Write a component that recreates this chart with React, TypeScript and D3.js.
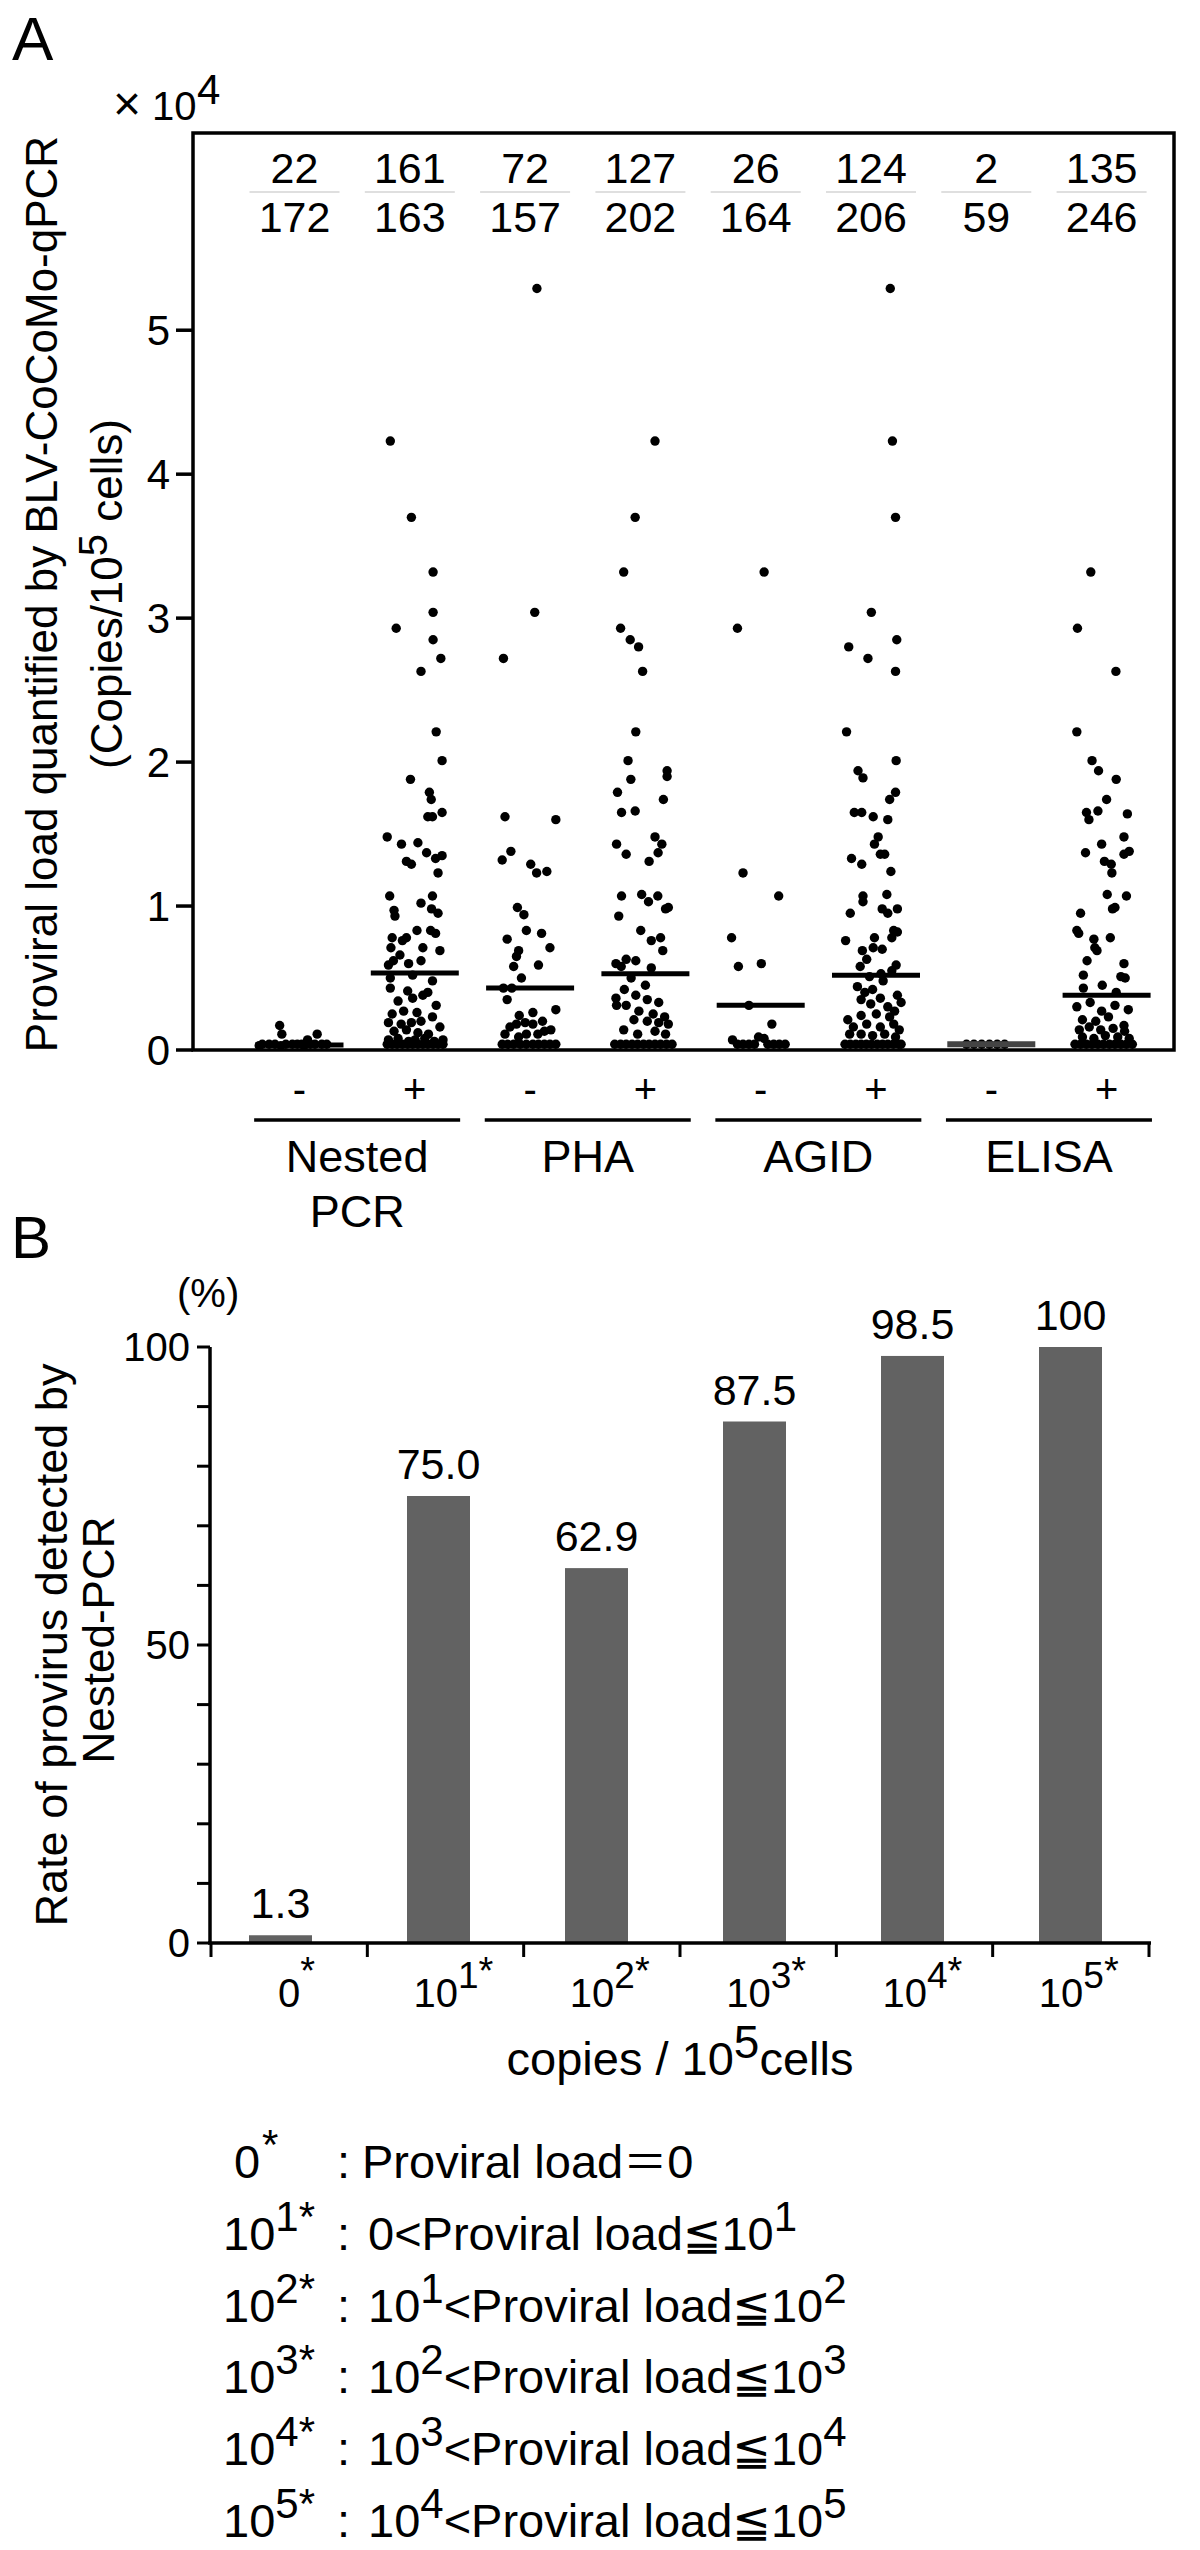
import React from "react";
import * as d3 from "d3";

// ---------- Panel A data ----------
const groupNames: string[][] = [["Nested", "PCR"], ["PHA"], ["AGID"], ["ELISA"]];
const signLabels = ["-", "+", "-", "+", "-", "+", "-", "+"];
const positiveCounts = [22, 161, 72, 127, 26, 124, 2, 135];
const totalCounts = [172, 163, 157, 202, 164, 206, 59, 246];
const medianLoads = [0.035, 0.535, 0.43, 0.53, 0.31, 0.52, 0.04, 0.38];
const loadTicks = [0, 1, 2, 3, 4, 5];

// each dot: [horizontal jitter (-1..1), proviral load (x10^4 copies / 10^5 cells)]
const nestedNeg: [number, number][] = [
  [-0.64, 0.17], [-0.57, 0.11], [0.57, 0.11], [0.26, 0.07], [-1.2, 0.04], [-0.98, 0.04], [-0.79, 0.04],
  [-0.44, 0.04], [-0.23, 0.04], [-0.07, 0.04], [0.07, 0.04], [0.35, 0.04], [0.5, 0.04], [0.72, 0.04],
  [0.88, 0.04], [-0.6, 0.03], [0.15, 0.03], [-1.3, 0.03],
];
const nestedPos: [number, number][] = [
  [-0.79, 4.23], [-0.11, 3.7], [0.59, 3.32], [0.59, 3.04], [-0.6, 2.93], [0.59, 2.85], [0.84, 2.72], [0.2, 2.63],
  [0.69, 2.21], [0.88, 2.01], [-0.14, 1.88], [0.47, 1.79], [0.53, 1.74], [0.57, 1.62], [0.88, 1.65], [0.42, 1.62],
  [-0.89, 1.48], [-0.43, 1.43], [0.1, 1.44], [0.38, 1.37], [0.88, 1.35], [0.67, 1.33], [-0.27, 1.31], [-0.11, 1.29],
  [0.75, 1.23], [-0.81, 1.07], [0.57, 1.07], [0.2, 1.02], [-0.67, 0.97], [-0.64, 0.93], [0.54, 0.98], [0.75, 0.95],
  [0.07, 0.83], [0.51, 0.83], [0.67, 0.81], [-0.73, 0.78], [-0.4, 0.76], [-0.27, 0.78], [-0.77, 0.71], [0.26, 0.71],
  [0.81, 0.69], [-0.48, 0.66], [-0.69, 0.62], [-0.85, 0.59], [-0.2, 0.6], [0.2, 0.62], [-0.79, 0.5], [-0.07, 0.52],
  [0.57, 0.48], [-0.79, 0.43], [-0.23, 0.41], [0.42, 0.4], [-0.54, 0.34], [-0.07, 0.36], [0.26, 0.38], [0.69, 0.31],
  [-0.73, 0.25], [-0.36, 0.27], [0.07, 0.26], [0.57, 0.23], [-0.85, 0.19], [-0.44, 0.18], [-0.11, 0.19], [0.2, 0.2],
  [0.81, 0.16], [-0.67, 0.13], [-0.27, 0.14], [0.1, 0.12], [0.44, 0.11], [-0.85, 0.07], [-0.54, 0.08], [-0.2, 0.06],
  [0.01, 0.07], [0.32, 0.08], [0.63, 0.06], [0.91, 0.07], [-0.89, 0.04], [-0.73, 0.04], [-0.57, 0.04], [-0.4, 0.04],
  [-0.23, 0.04], [-0.07, 0.04], [0.1, 0.04], [0.26, 0.04], [0.42, 0.04], [0.59, 0.04], [0.75, 0.04], [0.91, 0.04],
];
const phaNeg: [number, number][] = [
  [0.22, 5.29], [0.15, 3.04], [-0.86, 2.72], [-0.81, 1.62], [0.83, 1.6], [-0.62, 1.38], [-0.9, 1.32], [0.02, 1.29],
  [0.21, 1.23], [0.54, 1.24], [-0.41, 0.99], [-0.2, 0.94], [-0.12, 0.83], [0.37, 0.81], [-0.74, 0.77], [0.64, 0.71],
  [-0.37, 0.69], [-0.44, 0.65], [0.27, 0.59], [-0.53, 0.58], [-0.28, 0.5], [-0.86, 0.43], [-0.59, 0.43], [-0.74, 0.35],
  [0.83, 0.28], [-0.35, 0.24], [0.09, 0.26], [-0.65, 0.16], [-0.44, 0.18], [-0.16, 0.19], [0.09, 0.18], [0.4, 0.2],
  [0.67, 0.14], [-0.81, 0.11], [-0.37, 0.09], [-0.12, 0.11], [0.25, 0.11], [0.46, 0.13], [-0.9, 0.04], [-0.72, 0.04],
  [-0.53, 0.04], [-0.32, 0.04], [-0.12, 0.04], [0.09, 0.04], [0.27, 0.04], [0.46, 0.04], [0.64, 0.04], [0.83, 0.04],
];
const phaPos: [number, number][] = [
  [0.31, 4.23], [-0.33, 3.7], [-0.7, 3.32], [-0.8, 2.93], [-0.49, 2.85], [-0.22, 2.8], [-0.09, 2.63], [-0.31, 2.21],
  [-0.56, 2.01], [0.7, 1.94], [0.7, 1.9], [-0.47, 1.88], [-0.9, 1.79], [0.58, 1.74], [-0.77, 1.65], [-0.33, 1.66],
  [-0.93, 1.43], [0.31, 1.48], [0.53, 1.43], [-0.62, 1.36], [0.41, 1.37], [0.12, 1.31], [-0.77, 1.07], [-0.12, 1.08],
  [0.4, 1.07], [0.1, 1.03], [0.65, 0.98], [0.74, 0.99], [-0.86, 0.93], [-0.15, 0.83], [0.19, 0.76], [0.49, 0.78],
  [0.56, 0.69], [-0.62, 0.63], [-0.95, 0.6], [-0.31, 0.62], [0.19, 0.57], [-0.78, 0.58], [-0.46, 0.5], [-0.68, 0.42],
  [0, 0.45], [-0.95, 0.36], [-0.31, 0.38], [0.06, 0.35], [0.43, 0.33], [-0.62, 0.31], [-0.21, 0.27], [-0.93, 0.31],
  [0.25, 0.25], [0.62, 0.23], [-0.37, 0.21], [0.06, 0.2], [0.43, 0.19], [0.74, 0.18], [-0.7, 0.14], [-0.25, 0.11],
  [0.31, 0.13], [0.65, 0.11], [-0.99, 0.04], [-0.8, 0.04], [-0.62, 0.04], [-0.43, 0.04], [-0.25, 0.04], [-0.06, 0.04],
  [0.12, 0.04], [0.31, 0.04], [0.49, 0.04], [0.68, 0.04], [0.86, 0.04],
];
const agidNeg: [number, number][] = [
  [0.11, 3.32], [-0.75, 2.93], [-0.57, 1.23], [0.58, 1.07], [-0.94, 0.78], [-0.72, 0.58], [0.02, 0.6], [-0.38, 0.31],
  [0.36, 0.18], [-0.91, 0.07], [-0.07, 0.09], [0.11, 0.08], [-0.75, 0.04], [-0.57, 0.04], [-0.38, 0.04], [-0.2, 0.04],
  [0.23, 0.04], [0.42, 0.04], [0.6, 0.04], [0.79, 0.04],
];
const agidPos: [number, number][] = [
  [0.46, 5.29], [0.53, 4.23], [0.63, 3.7], [-0.15, 3.04], [-0.88, 2.8], [0.67, 2.85], [-0.26, 2.72], [0.63, 2.63],
  [-0.95, 2.21], [0.65, 2.01], [-0.58, 1.94], [-0.42, 1.89], [0.63, 1.79], [0.44, 1.74], [-0.7, 1.65], [-0.46, 1.65],
  [-0.09, 1.62], [0.38, 1.6], [0.07, 1.48], [-0.05, 1.43], [-0.79, 1.33], [-0.46, 1.29], [0.14, 1.36], [0.28, 1.36],
  [0.48, 1.24], [-0.42, 1.07], [-0.42, 1.03], [0.35, 1.08], [0.2, 0.98], [0.38, 0.95], [0.69, 0.98], [-0.83, 0.95],
  [0.57, 0.83], [0.69, 0.82], [0.51, 0.78], [-0.98, 0.76], [-0.05, 0.78], [-0.09, 0.71], [0.2, 0.7], [-0.44, 0.69],
  [-0.3, 0.63], [-0.51, 0.58], [0.65, 0.59], [0.51, 0.55], [0.16, 0.53], [-0.21, 0.51], [0.23, 0.48], [-0.6, 0.44],
  [-0.36, 0.4], [-0.11, 0.42], [0.69, 0.38], [0.81, 0.33], [0.14, 0.36], [-0.48, 0.35], [-0.17, 0.32], [0.38, 0.3],
  [-0.91, 0.21], [-0.48, 0.24], [0.01, 0.25], [0.44, 0.23], [0.6, 0.27], [-0.73, 0.16], [-0.3, 0.18], [0.14, 0.16],
  [0.57, 0.18], [0.75, 0.14], [-0.85, 0.11], [-0.48, 0.11], [-0.11, 0.1], [0.28, 0.11], [0.63, 0.09], [-1.0, 0.04],
  [-0.83, 0.04], [-0.65, 0.04], [-0.48, 0.04], [-0.31, 0.04], [-0.14, 0.04], [0.04, 0.04], [0.21, 0.04], [0.38, 0.04],
  [0.56, 0.04], [0.73, 0.04], [0.81, 0.04],
];
const elisaNeg: [number, number][] = [
  [-0.8, 0.04], [-0.56, 0.04], [-0.31, 0.04], [-0.06, 0.04], [0.19, 0.04], [0.43, 0.04],
];
const elisaPos: [number, number][] = [
  [-0.51, 3.32], [-0.94, 2.93], [0.3, 2.63], [-0.96, 2.21], [-0.47, 2.01], [-0.26, 1.94], [0.31, 1.88], [0, 1.74],
  [-0.65, 1.65], [-0.57, 1.6], [-0.28, 1.66], [0.67, 1.64], [0.56, 1.48], [-0.16, 1.43], [-0.68, 1.37], [-0.07, 1.31],
  [0.15, 1.29], [0.17, 1.23], [0.56, 1.36], [0.73, 1.38], [0.02, 1.08], [0.64, 1.07], [0.19, 0.98], [0.27, 0.99],
  [-0.84, 0.95], [-0.96, 0.83], [-0.9, 0.81], [-0.41, 0.77], [0.12, 0.78], [-0.38, 0.71], [-0.31, 0.69], [-0.63, 0.62],
  [0.56, 0.6], [-0.75, 0.52], [0.46, 0.51], [0.6, 0.5], [-0.14, 0.45], [-0.75, 0.43], [0.31, 0.4], [-0.96, 0.3],
  [-0.53, 0.33], [-0.16, 0.27], [0.7, 0.28], [0.27, 0.31], [-0.78, 0.21], [-0.35, 0.2], [0.06, 0.23], [0.56, 0.17],
  [-0.88, 0.14], [-0.56, 0.16], [-0.19, 0.14], [0.21, 0.15], [0.58, 0.13], [-0.78, 0.09], [-0.41, 0.08], [-0.04, 0.1],
  [0.36, 0.09], [0.73, 0.08], [-1.02, 0.04], [-0.84, 0.04], [-0.65, 0.04], [-0.47, 0.04], [-0.28, 0.04], [-0.1, 0.04],
  [0.09, 0.04], [0.27, 0.04], [0.46, 0.04], [0.64, 0.04], [0.83, 0.04],
];
const dotGroups = [nestedNeg, nestedPos, phaNeg, phaPos, agidNeg, agidPos, elisaNeg, elisaPos];

// ---------- Panel B data ----------
const loadClasses = ["0", "1", "2", "3", "4", "5"]; // exponent of the class 10^n*
const detectionRates = [1.3, 75.0, 62.9, 87.5, 98.5, 100];
const rateLabels = ["1.3", "75.0", "62.9", "87.5", "98.5", "100"];
const rateTickLabels = [0, 50, 100];

const FONT = "'Liberation Sans', Arial, Helvetica, sans-serif";
const BAR = "#626262";
const SYM = "'DejaVu Sans', 'Noto Sans CJK JP', sans-serif";

export default function App() {
  // Panel A scales
  const frameA = { left: 193, right: 1174, top: 133, bottom: 1050 };
  const yA = d3.scaleLinear().domain([0, 6.37]).range([frameA.bottom, frameA.top]);
  const xA = d3.scalePoint<number>().domain(d3.range(8)).range([299.5, 1106.6]);
  const jitter = d3.scaleLinear().domain([-1, 1]).range([-31, 31]);

  // Panel B scales
  const yB = d3.scaleLinear().domain([0, 100]).range([1943, 1347]);
  const xBand = d3.scaleBand<string>().domain(loadClasses).range([211, 1149]);
  const xBar = d3.scalePoint<string>().domain(loadClasses).range([280.5, 1070.5]);
  const barW = 63;

  const legendBase = d3.scaleLinear().domain([0, 5]).range([2178, 2537]);

  return (
    <svg width={1200} height={2550} viewBox="0 0 1200 2550"
      style={{ position: "absolute", left: 0, top: 0, display: "block", background: "#fff" }}
      fontFamily={FONT}>
      <rect x={0} y={0} width={1200} height={2550} fill="#fff" />
      {/* ===== Panel A ===== */}
      <text x={12} y={60} fontSize={62}>A</text>
      <text y={120} fontSize={40}>
        <tspan x={113} fontSize={48}>×</tspan>
        <tspan x={152}>10</tspan>
        <tspan x={197} dy={-16} fontSize={42}>4</tspan>
      </text>

      {/* y axis title */}
      <text transform={`translate(57,594) rotate(-90)`} textAnchor="middle" fontSize={44}>
        Proviral load quantified by BLV-CoCoMo-qPCR
      </text>
      <text transform={`translate(122,594) rotate(-90)`} textAnchor="middle" fontSize={44}>
        (Copies/10<tspan dy={-15} fontSize={40}>5</tspan><tspan dy={15}> cells)</tspan>
      </text>

      {/* dots */}
      {dotGroups.map((g, gi) => (
        <g key={`g${gi}`}>
          {g.map(([j, v], k) => (
            <circle key={k} cx={(xA(gi) as number) + jitter(j)} cy={yA(v)} r={4.7} fill="#000" />
          ))}
        </g>
      ))}
      {/* medians */}
      {medianLoads.map((m, i) => (
        <line key={`m${i}`} x1={(xA(i) as number) - 44} x2={(xA(i) as number) + 44}
          y1={yA(m)} y2={yA(m)} stroke={i === 6 ? "#444" : "#000"} strokeWidth={i === 6 ? 6 : 5} />
      ))}

      {/* frame */}
      <rect x={frameA.left} y={frameA.top} width={frameA.right - frameA.left} height={frameA.bottom - frameA.top}
        fill="none" stroke="#000" strokeWidth={3.5} />
      {/* y ticks */}
      {loadTicks.map((t) => (
        <g key={`t${t}`}>
          <line x1={176} x2={frameA.left} y1={yA(t)} y2={yA(t)} stroke="#000" strokeWidth={3.5} />
          <text x={170} y={yA(t)} dy="0.36em" textAnchor="end" fontSize={42}>{t}</text>
        </g>
      ))}

      {/* counts */}
      {positiveCounts.map((n, i) => {
        const cx = (xA(i) as number) - 5;
        return (
          <g key={`c${i}`}>
            <text x={cx} y={183} textAnchor="middle" fontSize={43}>{n}</text>
            <line x1={cx - 45} x2={cx + 45} y1={192} y2={192} stroke="#d4d4d4" strokeWidth={1.5} />
            <text x={cx} y={232} textAnchor="middle" fontSize={43}>{totalCounts[i]}</text>
          </g>
        );
      })}

      {/* +/- labels */}
      {signLabels.map((s, i) => (
        <text key={`s${i}`} x={xA(i) as number} y={1103} textAnchor="middle" fontSize={40}>{s}</text>
      ))}
      {/* group lines and names */}
      {groupNames.map((lines, gi) => {
        const cx = ((xA(gi * 2) as number) + (xA(gi * 2 + 1) as number)) / 2;
        return (
          <g key={`gn${gi}`}>
            <line x1={cx - 103} x2={cx + 103} y1={1120} y2={1120} stroke="#000" strokeWidth={3.5} />
            {lines.map((l, li) => (
              <text key={li} x={cx} y={1172 + li * 55} textAnchor="middle" fontSize={45}>{l}</text>
            ))}
          </g>
        );
      })}

      {/* ===== Panel B ===== */}
      <text x={11} y={1258} fontSize={60}>B</text>
      <text x={177} y={1307} fontSize={40}>(%)</text>

      <text transform={`translate(67,1645) rotate(-90)`} textAnchor="middle" fontSize={45}>
        Rate of provirus detected by
      </text>
      <text transform={`translate(114,1640) rotate(-90)`} textAnchor="middle" fontSize={44}>
        Nested-PCR
      </text>

      {/* bars */}
      {detectionRates.map((v, i) => (
        <rect key={`b${i}`} x={(xBar(loadClasses[i]) as number) - barW / 2} width={barW}
          y={yB(v)} height={yB(0) - yB(v)} fill={BAR} />
      ))}
      {rateLabels.map((l, i) => (
        <text key={`bl${i}`} x={xBar(loadClasses[i]) as number} y={yB(detectionRates[i]) - 17}
          textAnchor="middle" fontSize={43}>{l}</text>
      ))}

      {/* y axis B */}
      <line x1={210} x2={210} y1={yB(100)} y2={yB(0)} stroke="#000" strokeWidth={3.5} />
      {yB.ticks(10).map((t) => (
        <line key={`yt${t}`} x1={197} x2={210} y1={yB(t)} y2={yB(t)} stroke="#000" strokeWidth={3} />
      ))}
      {rateTickLabels.map((t) => (
        <text key={`ytl${t}`} x={190} y={yB(t)} dy="0.36em" textAnchor="end" fontSize={40}>{t}</text>
      ))}

      {/* x axis B */}
      <line x1={208} x2={1151} y1={yB(0)} y2={yB(0)} stroke="#000" strokeWidth={3.5} />
      {[...loadClasses.map((c) => xBand(c) as number), xBand.range()[1]].map((x, i) => (
        <line key={`xt${i}`} x1={x} x2={x} y1={yB(0)} y2={1957} stroke="#000" strokeWidth={3} />
      ))}
      {loadClasses.map((c) => {
        const cx = (xBand(c) as number) + xBand.bandwidth() / 2;
        if (c === "0") {
          return (
            <g key={`xl${c}`}>
              <text x={cx} y={2007} textAnchor="middle" fontSize={40}>0</text>
              <text x={cx + 11} y={1984} fontSize={38}>*</text>
            </g>
          );
        }
        return (
          <text key={`xl${c}`} x={cx - 32} y={2007} fontSize={40}>
            10<tspan dy={-19} fontSize={37}>{c}</tspan><tspan dy={-4} fontSize={38}>*</tspan>
          </text>
        );
      })}
      <text x={680} y={2075} textAnchor="middle" fontSize={47}>
        copies / 10<tspan dy={-17} fontSize={46}>5</tspan><tspan dy={17}>cells</tspan>
      </text>

      {/* legend */}
      {loadClasses.map((c, i) => {
        const y = legendBase(i);
        const k = +c;
        return (
          <g key={`lg${c}`} fontSize={47}>
            {k === 0 ? (
              <text x={247} y={y} textAnchor="middle">0</text>
            ) : (
              <text x={223} y={y}>10<tspan dy={-19} fontSize={42}>{c}*</tspan></text>
            )}
            {k === 0 && <text x={262} y={y - 19} fontSize={42}>*</text>}
            <text x={337} y={y}>:</text>
            {k === 0 ? (
              <text x={362} y={y}>Proviral load<tspan fontFamily="'Noto Sans CJK JP', sans-serif" fontSize={44}>＝</tspan>0</text>
            ) : k === 1 ? (
              <text x={368} y={y}>
                0&lt;Proviral load<tspan fontFamily={SYM} fontSize={46}>≦</tspan>10
                <tspan dy={-19} fontSize={42}>{k}</tspan>
              </text>
            ) : (
              <text x={368} y={y}>
                10<tspan dy={-19} fontSize={42}>{k - 1}</tspan><tspan dy={19}>&lt;Proviral load</tspan>
                <tspan fontFamily={SYM} fontSize={46}>≦</tspan>10
                <tspan dy={-19} fontSize={42}>{k}</tspan>
              </text>
            )}
          </g>
        );
      })}
    </svg>
  );
}
